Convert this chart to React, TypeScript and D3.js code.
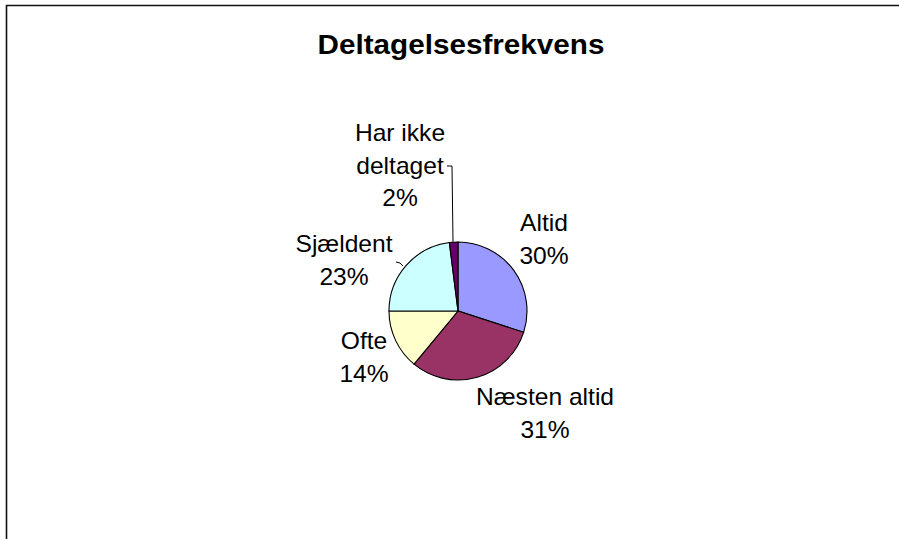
import React from "react";
import * as d3 from "d3";

const categories = ["Altid", "Næsten altid", "Ofte", "Sjældent", "Har ikke deltaget"];
const values = [30, 31, 14, 23, 2];
const colors = ["#9999FF", "#993366", "#FFFFCC", "#CCFFFF", "#660066"];
const labelLines = [["Altid", "30%"], ["Næsten altid", "31%"], ["Ofte", "14%"], ["Sjældent", "23%"], ["Har ikke", "deltaget", "2%"]];
const title = "Deltagelsesfrekvens";

const W = 899, H = 539;
const cx = 458, cy = 311, R = 69;
// label anchor positions (center x, first baseline y)
const labelPos = [[544, 231], [545, 405], [364, 349], [344, 252], [400, 141]];
const lineGap = 32.5;

export default function App() {
  const pie = d3.pie<number>().sort(null).value((d) => d)(values);
  const arc = d3.arc<d3.PieArcDatum<number>>().innerRadius(0).outerRadius(R);
  const fs = 23;
  return (
    <svg width={W} height={H} style={{ position: "fixed", left: 0, top: 0, background: "#fff" }}
      fontFamily="'Liberation Sans', Arial, sans-serif">
      <rect x={0} y={0} width={W} height={H} fill="#fff" />
      <path d={`M6.5,${H + 5} L6.5,5.5 L${W + 5},5.5`} fill="none" stroke="#111" strokeWidth={1.6} />
      <text transform={`translate(461,54) scale(1.06,1)`} textAnchor="middle" fontSize={28} fontWeight="bold" fill="#000">{title}</text>
      <g transform={`translate(${cx},${cy})`}>
        {pie.map((p, i) => (
          <path key={categories[i]} d={arc(p) || ""} fill={colors[i]} stroke="#000" strokeWidth={1.1} />
        ))}
      </g>
      <polyline points="447,166 452,166 453,242" fill="none" stroke="#000" strokeWidth={1} />
      <polyline points="396,262 400,263 403,266" fill="none" stroke="#000" strokeWidth={1} />
      {labelLines.map((lines, i) => (
        <g key={categories[i]}>
          {lines.map((t, j) => (
            <text key={j} transform={`translate(${labelPos[i][0]},${labelPos[i][1] + j * lineGap}) scale(1.07,1)`}
              textAnchor="middle" fontSize={fs} fill="#000">{t}</text>
          ))}
        </g>
      ))}
    </svg>
  );
}
